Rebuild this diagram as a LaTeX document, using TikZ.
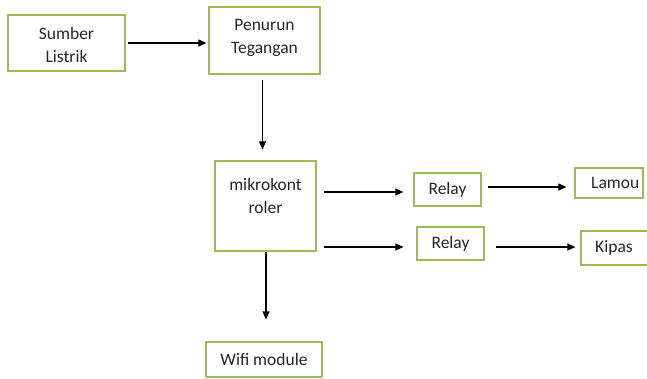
\documentclass[tikz,border=0pt]{standalone}
\usepackage{fontspec}
\setmainfont{Carlito}
\usetikzlibrary{arrows.meta}
\definecolor{boxgreen}{RGB}{155,187,89}
\tikzset{
  blk/.style={draw=boxgreen, line width=1.2pt, fill=white, inner sep=0pt},
  txt/.style={font=\fontsize{17.5}{23}\selectfont, align=center, text=black!85, inner sep=0pt},
  arr/.style={-{Triangle[length=8pt,width=7pt]}, line width=1.2pt, black}
}
\begin{document}
\begin{tikzpicture}[x=1pt,y=-1pt]
\useasboundingbox (0,0) rectangle (647,379);
\begin{scope}
\clip (0,0) rectangle (647,379);
% boxes
\node[blk, minimum width=117pt, minimum height=56pt] (A) at (66.5,43) {};
\node[txt] (At) at (66.5,45) {Sumber\\Listrik};
\node[blk, minimum width=111pt, minimum height=67pt] (B) at (264.5,40.5) {};
\node[txt] (Bt) at (264.5,37.5) {Penurun\\Tegangan};
\node[blk, minimum width=101pt, minimum height=90pt] (C) at (265.5,206) {};
\node[txt] (Ct) at (265.5,196) {mikrokont\\roler};
\node[blk, minimum width=67pt, minimum height=33pt] (D) at (447.5,189.5) {};
\node[txt] (Dt) at (447.5,189.5) {Relay};
\node[blk, minimum width=68pt, minimum height=30pt] (E) at (609,183) {};
\node[txt, anchor=west] (Et) at (591,183) {Lamou};
\node[blk, minimum width=67pt, minimum height=33pt] (F) at (450.5,243.5) {};
\node[txt] (Ft) at (450.5,243.5) {Relay};
\node[blk, minimum width=74pt, minimum height=34pt] (G) at (618,248) {};
\node[txt, anchor=west] (Gt) at (595,248) {Kipas};
\node[blk, minimum width=116pt, minimum height=35pt] (H) at (264,359.5) {};
\node[txt] (Ht) at (264,359.5) {Wifi module};
% connectors
\draw[arr] ([xshift=2pt]A.east) -- ([xshift=-2pt]B.west |- A.east);
\draw[arr] ([xshift=-2pt,yshift=-5pt]B.south) -- ([xshift=-2pt,yshift=11pt]B.south |- C.north);
\draw[arr] ([xshift=7pt]C.east |- 0,192) -- ([xshift=-10pt]D.west |- 0,192);
\draw[arr] ([xshift=6pt]D.east |- 0,187) -- ([xshift=-8pt]E.west |- 0,187);
\draw[arr] ([xshift=7pt]C.east |- 0,247) -- ([xshift=-13pt]F.west |- 0,247);
\draw[arr] ([xshift=11pt]F.east |- 0,247) -- ([xshift=-5pt]G.west |- 0,247);
\draw[arr] ([xshift=0.5pt]C.south) -- ([xshift=0.5pt,yshift=22pt]C.south |- H.north);
\end{scope}
\end{tikzpicture}
\end{document}
